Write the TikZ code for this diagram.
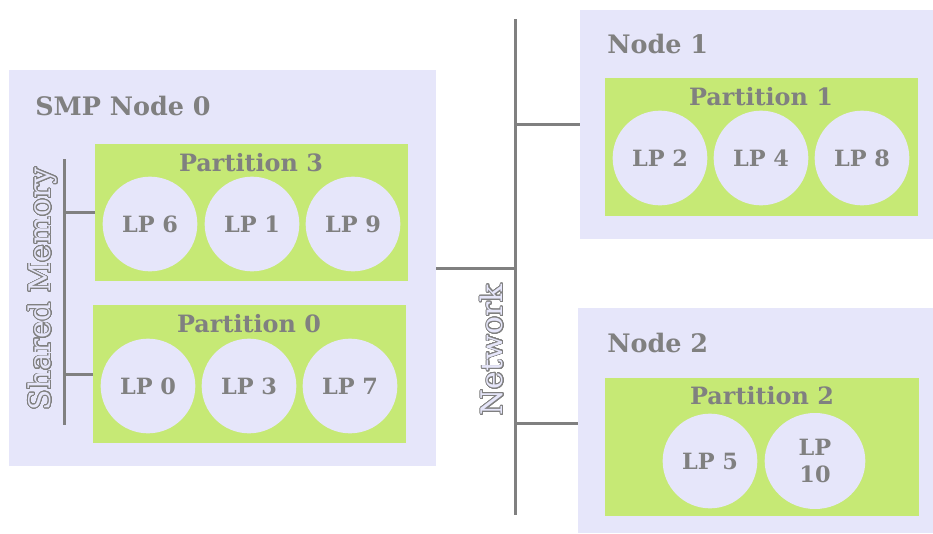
\documentclass[tikz,border=0pt]{standalone}
\usepackage{fontspec}
\setmainfont{DejaVu Serif}
\usepackage[copies]{contour}
\contourlength{0.55pt}
\contournumber{32}
\usetikzlibrary{fit,shapes.geometric}

\definecolor{lav}{HTML}{E6E6FA}
\definecolor{leaf}{HTML}{C6E975}
\definecolor{ink}{HTML}{808080}

\tikzset{
  hostbox/.style={fill=lav, draw=none, inner sep=0pt},
  partbox/.style={fill=leaf, draw=none, inner sep=0pt},
  hosttitle/.style={anchor=base west, inner sep=0pt, text=ink,
    font=\bfseries\fontsize{19.1}{22}\selectfont},
  parttitle/.style={anchor=base, inner sep=0pt, text=ink,
    font=\bfseries\fontsize{17.9}{21}\selectfont},
  lp/.style={circle, fill=lav, draw=none, minimum size=71pt, inner sep=0pt,
    text=ink, align=center, font=\bfseries\fontsize{16.8}{20.5}\selectfont},
  buslabel/.style={rotate=90, inner sep=0pt, text=lav,
    font=\fontsize{22.3}{26}\selectfont},
  bus/.style={draw=ink, line width=2.25pt},
}

\begin{document}
\begin{tikzpicture}[x=0.75pt, y=-0.75pt]
\useasboundingbox (0,0) rectangle (933,533);

% ---- SMP node 0 with two partitions on shared memory
\node[hostbox, fit={(9,70) (436,466)}] (smp) {};
\node[hosttitle] (smptitle) at (35,115) {SMP Node 0};

\node[partbox, fit={(95,144) (408,281)}] (p3) {};
\node[parttitle] (p3title) at (251,171) {Partition 3};
\node[lp] (lp6) at (150,224) {LP 6};
\node[lp] (lp1) at (252,224) {LP 1};
\node[lp] (lp9) at (353,224) {LP 9};

\node[partbox, fit={(93,305) (406,443)}] (p0) {};
\node[parttitle] (p0title) at (249,332) {Partition 0};
\node[lp] (lp0) at (148,386) {LP 0};
\node[lp] (lp3) at (249,386) {LP 3};
\node[lp] (lp7) at (350,386) {LP 7};

\coordinate (memtop) at (64,159);
\coordinate (membot) at (64,425);
\draw[bus] (memtop) -- (membot);
\draw[bus] (p3.west) -- (p3.west -| memtop);
\draw[bus] (p0.west) -- (p0.west -| memtop);
\node[buslabel] (memlabel) at (43,289) {\contour{ink}{Shared Memory}};

% ---- Node 1
\node[hostbox, fit={(580,10) (933,239)}] (n1) {};
\node[hosttitle] (n1title) at (607,53) {Node 1};
\node[partbox, fit={(605,78) (918,216)}] (p1) {};
\node[parttitle] (p1title) at (761,105) {Partition 1};
\node[lp] (lp2) at (660,158) {LP 2};
\node[lp] (lp4) at (761,158) {LP 4};
\node[lp] (lp8) at (862,158) {LP 8};

% ---- Node 2
\node[hostbox, fit={(578,308) (933,533)}] (n2) {};
\node[hosttitle] (n2title) at (607,352) {Node 2};
\node[partbox, fit={(605,378) (919,516)}] (p2) {};
\node[parttitle] (p2title) at (762,404) {Partition 2};
\node[lp] (lp5) at (710,461) {LP 5};
\node[lp, ellipse, minimum width=75.5pt, minimum height=72pt] (lp10) at (815,461) {LP\\10};

% ---- Network bus
\coordinate (nettop) at (515,19);
\coordinate (netbot) at (515,515);
\draw[bus] (nettop) -- (netbot);
\draw[bus] (smp.east) -- (smp.east -| nettop);
\draw[bus] (n1.west) -- (n1.west -| nettop);
\draw[bus] (n2.west |- 0,423) -- (nettop |- 0,423);
\node[buslabel] (netlabel) at (492,350) {\contour{ink}{Network}};
\end{tikzpicture}
\end{document}
